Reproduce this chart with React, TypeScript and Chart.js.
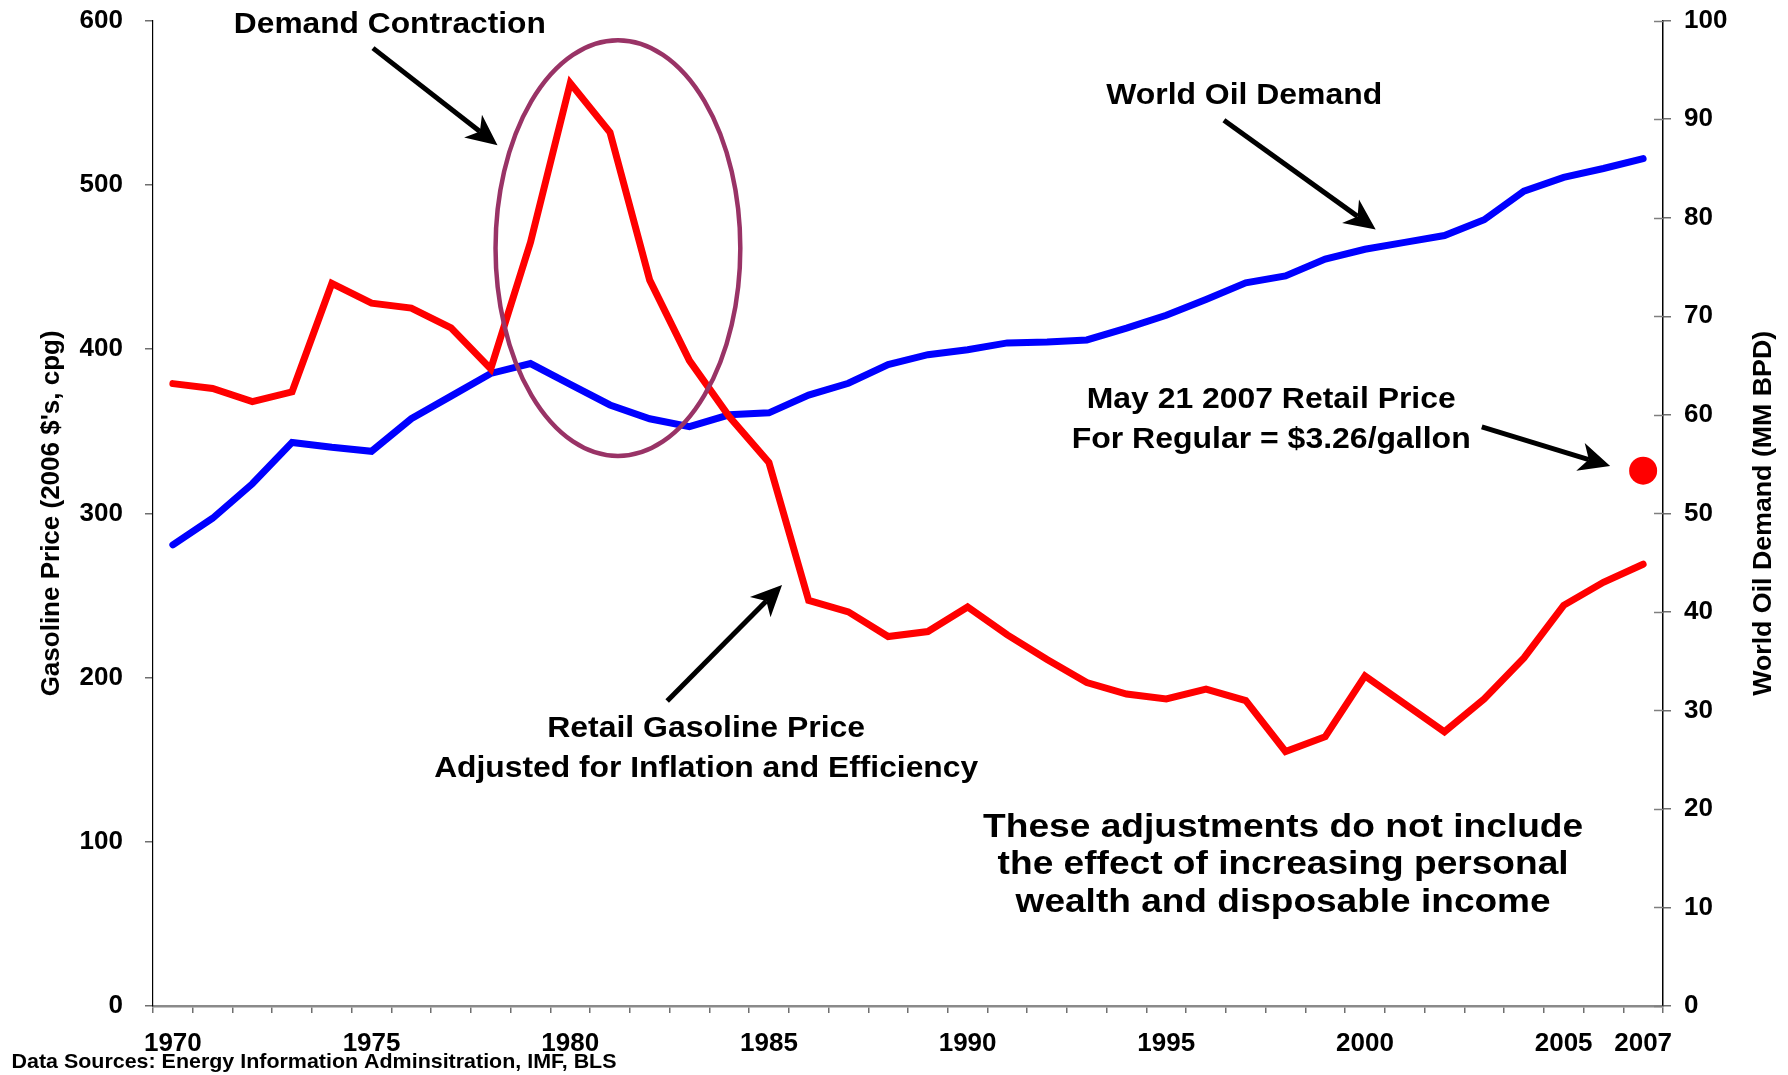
import React, { useEffect, useRef } from 'react';
import { Chart, registerables } from 'chart.js';

Chart.register(...registerables);

const FONT = '"Liberation Sans", Arial, Helvetica, sans-serif';

// ---------------- data ----------------
const yearLabels = [
  '1970', '1971', '1972', '1973', '1974', '1975', '1976', '1977', '1978', '1979',
  '1980', '1981', '1982', '1983', '1984', '1985', '1986', '1987', '1988', '1989',
  '1990', '1991', '1992', '1993', '1994', '1995', '1996', '1997', '1998', '1999',
  '2000', '2001', '2002', '2003', '2004', '2005', '2006', '2007',
];
const labelledYears = ['1970', '1975', '1980', '1985', '1990', '1995', '2000', '2005', '2007'];

// Retail gasoline price adjusted for inflation and efficiency (2006 cents per gallon)
const gasolinePrice = [
  379, 376, 368, 374, 440, 428, 425, 413, 388, 465,
  562, 532, 442, 393, 359, 331, 247, 240, 225, 228,
  243, 226, 211, 197, 190, 187, 193, 186, 155, 164,
  201, 184, 167, 187, 212, 244, 258, 269,
];

// World oil demand (million barrels per day)
const worldOilDemand = [
  46.8, 49.5, 53.0, 57.2, 56.7, 56.3, 59.6, 61.9, 64.2, 65.2,
  63.1, 61.0, 59.6, 58.8, 60.0, 60.2, 62.0, 63.2, 65.1, 66.1,
  66.6, 67.3, 67.4, 67.6, 68.8, 70.1, 71.7, 73.4, 74.1, 75.8,
  76.8, 77.5, 78.2, 79.8, 82.7, 84.1, 85.0, 86.0,
];

// May 21 2007 retail price for regular (cents per gallon)
const may2007Year = '2007';
const may2007Price = 326;

const leftAxis = { min: 0, max: 600, step: 100 };
const rightAxis = { min: 0, max: 100, step: 10 };

const leftTitle = "Gasoline Price (2006 $'s, cpg)";
const rightTitle = 'World Oil Demand (MM BPD)';
const sourceNote = 'Data Sources: Energy Information Adminsitration, IMF, BLS';

// annotation anchors in data units (category index, left-axis value)
const calloutTexts = [
  { text: 'Demand Contraction', idx: 5.46, val: 599.0, size: 29.5, width: 312 },
  { text: 'World Oil Demand', idx: 26.96, val: 555.4, size: 29, width: 276 },
  { text: 'May 21 2007 Retail Price', idx: 27.64, val: 370.5, size: 30, width: 369 },
  { text: 'For Regular = $3.26/gallon', idx: 27.64, val: 346.4, size: 30, width: 399 },
  { text: 'Retail Gasoline Price', idx: 13.42, val: 170.2, size: 29, width: 318 },
  { text: 'Adjusted for Inflation and Efficiency', idx: 13.42, val: 145.9, size: 29, width: 544 },
  { text: 'These adjustments do not include', idx: 27.94, val: 110.2, size: 33, width: 600 },
  { text: 'the effect of increasing personal', idx: 27.94, val: 87.4, size: 33, width: 571 },
  { text: 'wealth and disposable income', idx: 27.94, val: 64.6, size: 33, width: 535 },
];

const calloutArrows = [
  { from: [5.036, 583.3], to: [8.17, 524.2] },
  { from: [26.45, 539.4], to: [30.27, 472.9] },
  { from: [32.94, 352.7], to: [36.17, 328.8] },
  { from: [12.44, 185.7], to: [15.33, 256.3] },
];

const highlightEllipse = { idx: 11.2, val: 461.5, rIdx: 3.08, rVal: 126.6 };

// ---------------- drawing helpers ----------------
function drawStretchedText(ctx: CanvasRenderingContext2D, text: string, x: number, capCenterY: number,
  size: number, width: number, align: CanvasTextAlign = 'center', rotate = 0) {
  ctx.save();
  ctx.font = `bold ${size}px ${FONT}`;
  const natural = ctx.measureText(text).width;
  const sx = width / natural;
  ctx.translate(x, capCenterY);
  if (rotate) ctx.rotate(rotate);
  ctx.translate(0, 0.358 * size);
  ctx.scale(sx, 1);
  ctx.textAlign = align;
  ctx.textBaseline = 'alphabetic';
  ctx.fillStyle = '#000';
  ctx.fillText(text, 0, 0);
  ctx.restore();
}

function drawArrow(ctx: CanvasRenderingContext2D, x1: number, y1: number, x2: number, y2: number) {
  const ang = Math.atan2(y2 - y1, x2 - x1);
  const c = Math.cos(ang);
  const s = Math.sin(ang);
  const headLen = 31;
  const half = 14.5;
  const nx = x2 - headLen * 0.72 * c;
  const ny = y2 - headLen * 0.72 * s;
  const bx = x2 - headLen * c;
  const by = y2 - headLen * s;
  ctx.save();
  ctx.strokeStyle = '#000';
  ctx.fillStyle = '#000';
  ctx.lineWidth = 5;
  ctx.lineCap = 'butt';
  ctx.beginPath();
  ctx.moveTo(x1, y1);
  ctx.lineTo(nx, ny);
  ctx.stroke();
  ctx.beginPath();
  ctx.moveTo(x2, y2);
  ctx.lineTo(bx - s * half, by + c * half);
  ctx.lineTo(nx, ny);
  ctx.lineTo(bx + s * half, by - c * half);
  ctx.closePath();
  ctx.fill();
  ctx.restore();
}

const overlayPlugin = {
  id: 'overlay',
  afterDatasetsDraw(chart: any) {
    const { ctx } = chart;
    const xs = chart.scales.x;
    const ys = chart.scales.y;
    const cx = xs.getPixelForValue(highlightEllipse.idx);
    const cy = ys.getPixelForValue(highlightEllipse.val);
    const rx = Math.abs(xs.getPixelForValue(highlightEllipse.idx + highlightEllipse.rIdx) - cx);
    const ry = Math.abs(ys.getPixelForValue(highlightEllipse.val - highlightEllipse.rVal) - cy);
    ctx.save();
    ctx.beginPath();
    ctx.ellipse(cx, cy, rx, ry, 0, 0, Math.PI * 2);
    ctx.strokeStyle = '#993366';
    ctx.lineWidth = 4.5;
    ctx.stroke();
    ctx.restore();
  },
  afterDraw(chart: any) {
    const { ctx, chartArea } = chart;
    const xs = chart.scales.x;
    const ys = chart.scales.y;
    const yr = chart.scales.y1;

    // inner half of the right-axis tick marks (they cross the axis)
    ctx.save();
    ctx.strokeStyle = '#7f7f7f';
    ctx.lineWidth = 1.5;
    yr.ticks.forEach((t: any) => {
      const py = Math.round(yr.getPixelForValue(t.value)) + 0.5;
      ctx.beginPath();
      ctx.moveTo(yr.left - 9, py);
      ctx.lineTo(yr.left, py);
      ctx.stroke();
    });
    ctx.restore();

    calloutArrows.forEach((a) => {
      drawArrow(ctx,
        xs.getPixelForValue(a.from[0]), ys.getPixelForValue(a.from[1]),
        xs.getPixelForValue(a.to[0]), ys.getPixelForValue(a.to[1]));
    });

    calloutTexts.forEach((t) => {
      drawStretchedText(ctx, t.text, xs.getPixelForValue(t.idx), ys.getPixelForValue(t.val), t.size, t.width);
    });

    // right axis title, reading bottom to top
    const midY = (chartArea.top + chartArea.bottom) / 2;
    drawStretchedText(ctx, rightTitle, yr.right - 26, midY, 26, 365, 'center', -Math.PI / 2);

    // source note
    drawStretchedText(ctx, sourceNote, 11.5, chart.height - 14, 20.5, 605, 'left');
  },
};

export default function App() {
  const canvasRef = useRef<HTMLCanvasElement>(null);

  useEffect(() => {
    const tickFont = { family: FONT, size: 26, weight: 'bold' as const };
    const chart = new Chart(canvasRef.current as HTMLCanvasElement, {
      type: 'line',
      data: {
        labels: yearLabels,
        datasets: [
          {
            label: 'May 21 2007 Retail Price',
            data: [{ x: may2007Year, y: may2007Price }] as any,
            yAxisID: 'y',
            showLine: false,
            pointRadius: 14,
            pointBackgroundColor: '#FF0000',
            pointBorderWidth: 0,
            borderColor: '#FF0000',
          },
          {
            label: 'Retail Gasoline Price',
            data: gasolinePrice,
            yAxisID: 'y',
            borderColor: '#FF0000',
            borderWidth: 7,
            pointRadius: 0,
            tension: 0,
            borderCapStyle: 'round',
            borderJoinStyle: 'miter',
          },
          {
            label: 'World Oil Demand',
            data: worldOilDemand,
            yAxisID: 'y1',
            borderColor: '#0000FF',
            borderWidth: 7,
            pointRadius: 0,
            tension: 0,
            borderCapStyle: 'round',
            borderJoinStyle: 'miter',
          },
        ],
      },
      options: {
        animation: false,
        responsive: true,
        maintainAspectRatio: false,
        layout: { padding: { top: 20.7, left: 0, right: 0, bottom: 0 } },
        plugins: {
          legend: { display: false },
          tooltip: { enabled: false },
        },
        scales: {
          x: {
            type: 'category',
            offset: true,
            grid: {
              display: true,
              offset: true,
              drawOnChartArea: false,
              drawTicks: true,
              tickLength: 7,
              color: '#6f6f6f',
              lineWidth: 1.5,
            },
            border: { display: true, color: '#8a8a8a', width: 2.5 },
            ticks: {
              autoSkip: false,
              maxRotation: 0,
              minRotation: 0,
              padding: 15,
              color: '#000',
              font: tickFont,
              callback: (_v: any, index: number) =>
                labelledYears.includes(yearLabels[index]) ? yearLabels[index] : '',
            },
            afterFit: (scale: any) => { scale.height = 69; },
          },
          y: {
            type: 'linear',
            position: 'left',
            min: leftAxis.min,
            max: leftAxis.max,
            ticks: { stepSize: leftAxis.step, padding: 22, color: '#000', font: tickFont },
            grid: { drawOnChartArea: false, drawTicks: true, tickLength: 8, color: '#6f6f6f', lineWidth: 1.5 },
            border: { display: true, color: '#000', width: 1.2 },
            title: {
              display: true,
              text: leftTitle,
              color: '#000',
              font: { family: FONT, size: 26, weight: 'bold' },
              padding: { top: 36, bottom: 0 },
            },
            afterFit: (scale: any) => {
              scale.width = 153;
              scale.paddingTop = 0;
              scale.paddingBottom = 0;
            },
          },
          y1: {
            type: 'linear',
            position: 'right',
            min: rightAxis.min,
            max: rightAxis.max,
            ticks: { stepSize: rightAxis.step, padding: 13, color: '#000', font: tickFont },
            grid: { drawOnChartArea: false, drawTicks: true, tickLength: 8, color: '#6f6f6f', lineWidth: 1.5 },
            border: { display: true, color: '#000', width: 1.5 },
            afterFit: (scale: any) => {
              scale.width = 125;
              scale.paddingTop = 0;
              scale.paddingBottom = 0;
            },
          },
        },
      },
      plugins: [overlayPlugin],
    } as any);
    return () => chart.destroy();
  }, []);

  return (
    <div style={{ position: 'fixed', left: 0, top: 0, width: 1788, height: 1075, background: '#fff' }}>
      <canvas ref={canvasRef} />
    </div>
  );
}
